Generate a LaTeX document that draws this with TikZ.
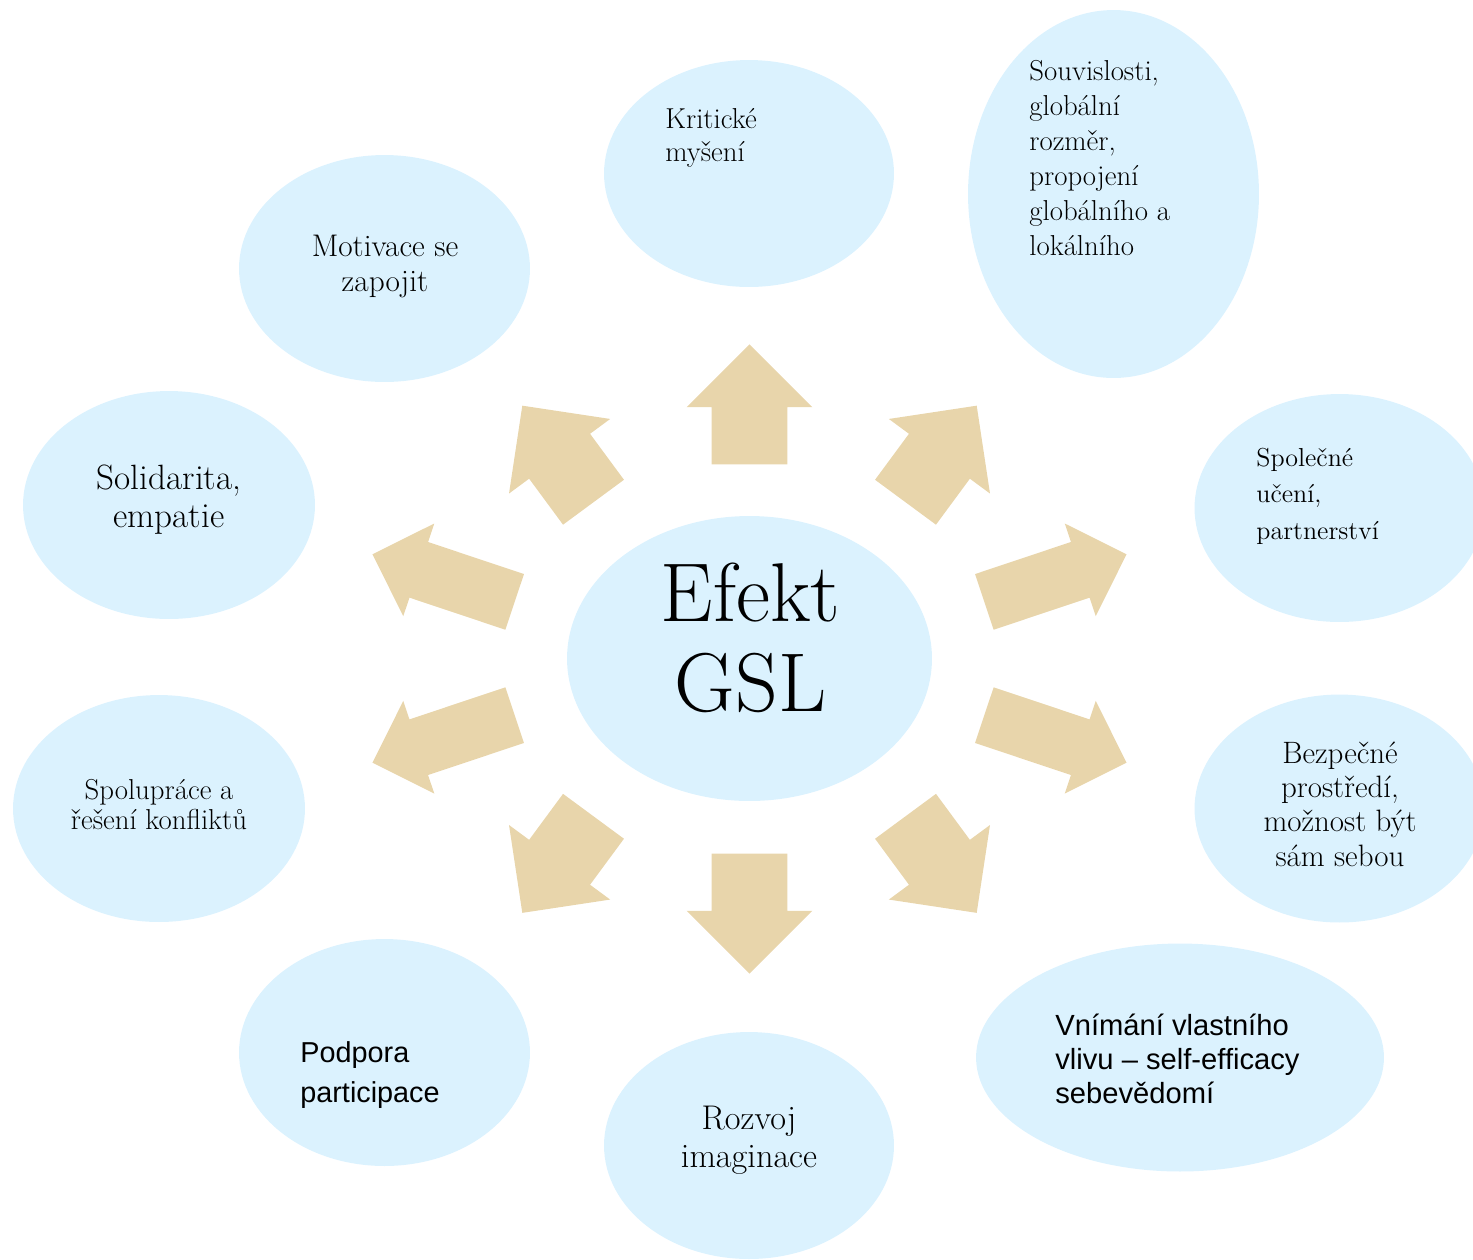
\documentclass[tikz,border=0pt]{standalone}
\usepackage{fontspec}
\newfontfamily\bubsans{Liberation Sans}
\usepackage{xcolor}
\definecolor{colorBubble}{HTML}{DBF2FE}
\definecolor{colorArrow}{HTML}{E8D5AB}
\usetikzlibrary{shapes.geometric, shapes.arrows}
\tikzset{
  bubble/.style={ellipse, fill=colorBubble, inner sep=0pt},
  blockarrow/.style={single arrow, fill=colorArrow, inner sep=0pt, inner ysep=0.75cm,
    single arrow head extend=0.5cm, minimum height=2.4cm, anchor=tail},
  longarrow/.style={blockarrow, inner ysep=0.58cm, single arrow head extend=0.39cm, minimum height=3cm},
  txtc/.style={inner sep=0pt, anchor=base},
  txtl/.style={inner sep=0pt, anchor=base west}
}

\begin{document}
\begin{tikzpicture}[x=0.02cm, y=-0.02cm]
\useasboundingbox (0,0) rectangle (1473,1259);
% bubbles
\node[bubble, minimum width=7.3cm, minimum height=5.7cm] (gsl) at (749.5,658.5) {};
\node[bubble, minimum width=5.8cm, minimum height=4.54cm] (krit) at (749,173.5) {};
\node[bubble, minimum width=5.82cm, minimum height=7.36cm] (souv) at (1113.5,194) {};
\node[bubble, minimum width=5.8cm, minimum height=4.56cm] (spol) at (1339.5,508) {};
\node[bubble, minimum width=5.8cm, minimum height=4.56cm] (bezp) at (1339.5,808.5) {};
\node[bubble, minimum width=8.16cm, minimum height=4.56cm] (vnim) at (1180,1057.5) {};
\node[bubble, minimum width=5.8cm, minimum height=4.54cm] (rozv) at (749,1145.5) {};
\node[bubble, minimum width=5.82cm, minimum height=4.54cm] (podp) at (384.5,1052.5) {};
\node[bubble, minimum width=5.84cm, minimum height=4.54cm] (sprc) at (159,808.5) {};
\node[bubble, minimum width=5.84cm, minimum height=4.56cm] (soli) at (169,505) {};
\node[bubble, minimum width=5.82cm, minimum height=4.54cm] (moti) at (384.5,268.5) {};
% arrows
\node[blockarrow, rotate=90] (aN) at (749.5,464.7) {};
\node[blockarrow, rotate=-90] (aS) at (749.5,853.3) {};
\node[blockarrow, rotate=53.6] (aNE) at (905.3,502.5) {};
\node[blockarrow, rotate=126.4] (aNW) at (593.7,502.5) {};
\node[blockarrow, rotate=-53.6] (aSE) at (905.3,816) {};
\node[blockarrow, rotate=-126.4] (aSW) at (593.7,816) {};
\node[longarrow, rotate=18.5] (aEN) at (984,602) {};
\node[longarrow, rotate=161.5] (aWN) at (515,602) {};
\node[longarrow, rotate=-18.5] (aES) at (984,715) {};
\node[longarrow, rotate=-161.5] (aWS) at (515,715) {};
% texts
\node[txtc] (gslT) at (750.5,621.7) {\parbox[t]{8cm}{\centering\fontsize{47.5}{51}\selectfont Efekt\\GSL}};
\node[txtl] (kritT) at (665,128) {\parbox[t]{4cm}{\raggedright\fontsize{16.4}{19}\selectfont Kritické\\myšení}};
\node[txtl] (souvT) at (1029,80) {\parbox[t]{4cm}{\raggedright\fontsize{16.4}{20}\selectfont Souvislosti,\\globální\\rozměr,\\propojení\\globálního a\\lokálního}};
\node[txtl] (spolT) at (1256,466) {\parbox[t]{4cm}{\raggedright\fontsize{14.8}{21}\selectfont Společné\\učení,\\partnerství}};
\node[txtc] (bezpT) at (1340,763) {\parbox[t]{5cm}{\centering\fontsize{17.6}{19.6}\selectfont Bezpečné\\prostředí,\\možnost být\\sám sebou}};
\node[txtl] (vnimT) at (1055,1035) {\parbox[t]{6cm}{\raggedright\bubsans\fontsize{16.6}{19.6}\selectfont Vnímání vlastního\\vlivu – self-efficacy\\sebevědomí}};
\node[txtc] (rozvT) at (749,1129) {\parbox[t]{5cm}{\centering\fontsize{19.5}{22}\selectfont Rozvoj\\imaginace}};
\node[txtl] (podpT) at (300,1062) {\parbox[t]{5cm}{\raggedright\bubsans\fontsize{16.4}{23.3}\selectfont Podpora\\participace}};
\node[txtc] (sprcT) at (159,799) {\parbox[t]{5cm}{\centering\fontsize{16.4}{17.3}\selectfont Spolupráce a\\řešení konfliktů}};
\node[txtc] (soliT) at (169,489) {\parbox[t]{5cm}{\centering\fontsize{20}{21.9}\selectfont Solidarita,\\empatie}};
\node[txtc] (motiT) at (385,256) {\parbox[t]{5cm}{\centering\fontsize{17.8}{20}\selectfont Motivace se\\zapojit}};
\end{tikzpicture}
\end{document}
